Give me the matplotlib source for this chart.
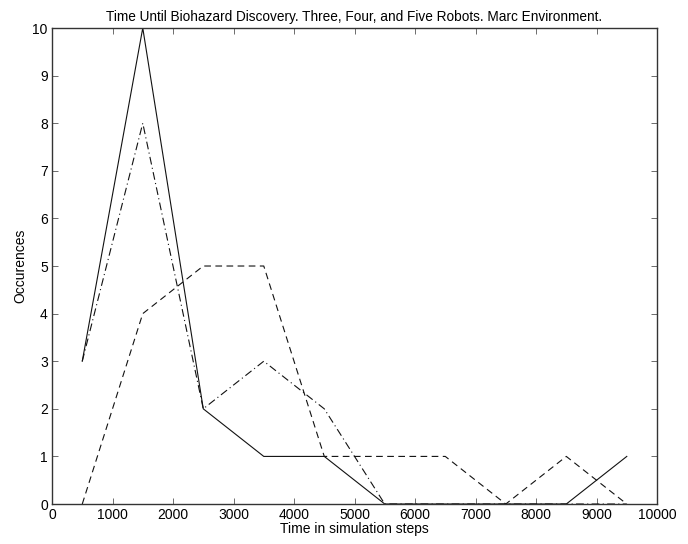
import matplotlib
matplotlib.use("Agg")
import matplotlib.pyplot as plt

# bin centres (simulation steps) and counts per robot team size
steps = [500, 1500, 2500, 3500, 4500, 5500, 6500, 7500, 8500, 9500]
three_robots = [3, 10, 2, 1, 1, 0, 0, 0, 0, 1]
four_robots = [3, 8, 2, 3, 2, 0, 0, 0, 0, 0]
five_robots = [0, 4, 5, 5, 1, 1, 1, 0, 1, 0]

x_ticks = list(range(0, 10001, 1000))
y_ticks = list(range(0, 11))

plt.rcParams["font.family"] = ["Liberation Sans", "DejaVu Sans"]

fig = plt.figure(figsize=(6.88, 5.44), dpi=100)
ax = fig.add_axes([0.0756, 0.0735, 0.8794, 0.875])

ax.plot(steps, three_robots, color="#111111", linestyle="-", linewidth=0.8)
ax.plot(steps, four_robots, color="#111111", linestyle="-.", linewidth=0.8,
        dashes=(7, 3, 1, 3))
ax.plot(steps, five_robots, color="#111111", linestyle="--", linewidth=0.8,
        dashes=(6, 4))

ax.set_xlim(0, 10000)
ax.set_ylim(0, 10)
ax.set_xticks(x_ticks)
ax.set_yticks(y_ticks)
ax.tick_params(direction="in", length=4, labelsize=10, top=True, right=True,
               width=0.6, color="#555555", pad=3)
for s in ax.spines.values():
    s.set_linewidth(1.0)
    s.set_color("#333333")
    s.set_zorder(5)

ax.set_xlabel("Time in simulation steps", fontsize=10, labelpad=0)
ax.set_ylabel("Occurences", fontsize=10, labelpad=4)
ax.set_title("Time Until Biohazard Discovery. Three, Four, and Five Robots. Marc Environment.",
             fontsize=9.8, pad=5)

fig.savefig("out.png", dpi=100)
